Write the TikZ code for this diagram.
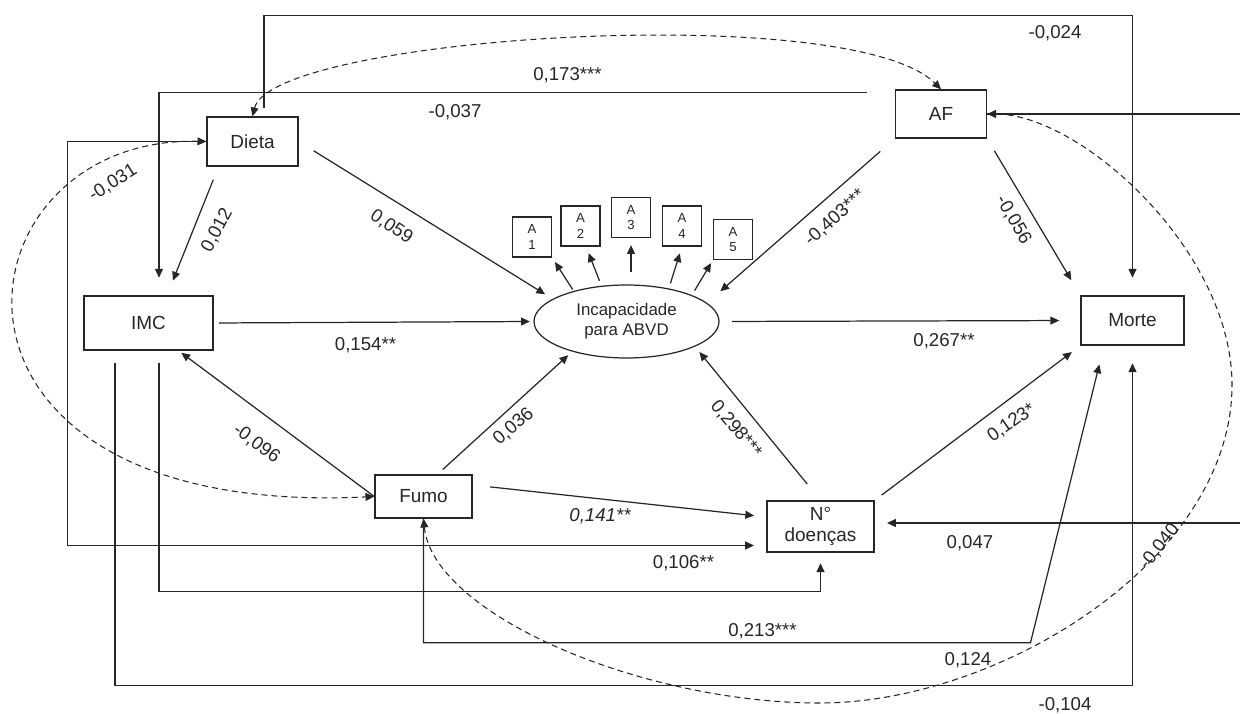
\documentclass[tikz,border=0pt]{standalone}
\usepackage{fontspec}
\setmainfont{Liberation Sans}
\usepackage{tikz}
\usetikzlibrary{shapes,arrows.meta}

\begin{document}
\begin{tikzpicture}[>={Triangle[length=5pt,width=4.5pt]}, line width=0.7pt, color=black!85,
  box/.style={draw, rectangle, line width=0.8pt, align=center, font=\fontsize{10.8}{12.3}\selectfont},
  item/.style={draw, rectangle, align=center, minimum width=0.78cm, minimum height=0.8cm, inner sep=0pt, font=\fontsize{7.5}{9}\selectfont},
  coef/.style={inner sep=0pt, font=\fontsize{10.6}{12}\selectfont},
  cov/.style={<->, dash pattern=on 3.4pt off 2.3pt, line width=0.6pt}]
  \useasboundingbox (0,0) rectangle (24.8,14.26);

  % Observed variables
  \node[box, minimum width=1.82cm, minimum height=0.98cm] (dieta) at (5.05,11.43) {Dieta};
  \node[box, minimum width=1.82cm, minimum height=0.96cm] (af) at (18.82,11.98) {AF};
  \node[box, minimum width=2.58cm, minimum height=1.08cm] (imc) at (2.97,7.80) {IMC};
  \node[box, minimum width=2.06cm, minimum height=0.98cm] (morte) at (22.65,7.85) {Morte};
  \node[box, minimum width=1.94cm, minimum height=0.86cm] (fumo) at (8.47,4.33) {Fumo};
  \node[box, minimum width=2.14cm, minimum height=1.02cm] (doencas) at (16.41,3.73) {N°\\doenças};

  % Latent variable and its items
  \node[draw, ellipse, minimum width=3.7cm, minimum height=1.46cm, inner sep=0pt, align=center, font=\fontsize{9.6}{11.5}\selectfont] (abvd) at (12.53,7.83) {Incapacidade\\para ABVD};
  \node[item] (a1) at (10.64,9.52) {A\\1};
  \node[item] (a2) at (11.61,9.74) {A\\2};
  \node[item] (a3) at (12.62,9.91) {A\\3};
  \node[item] (a4) at (13.64,9.74) {A\\4};
  \node[item] (a5) at (14.66,9.47) {A\\5};

  \draw[->, shorten <=1pt, shorten >=3pt] (abvd.150) -- (a1.south east);
  \draw[->, shorten <=3pt, shorten >=4pt] (abvd.125) -- (a2.-75);
  \draw[->, shorten <=7pt, shorten >=4pt] (abvd.north -| a3.south) -- (a3.south);
  \draw[->, shorten <=3pt, shorten >=4pt] (abvd.38) -- (a4.south);
  \draw[->, shorten <=3pt, shorten >=2pt] (abvd.22) -- (a5.south west);

  % Direct paths
  \draw[->, shorten <=10pt, shorten >=5pt] (dieta.east) -- (abvd.163);
  \draw[->, shorten <=8pt, shorten >=9pt] ([xshift=-0.68cm]dieta.south) -- ([xshift=0.37cm]imc.north);
  \draw[->, shorten <=3pt, shorten >=2pt] (imc.east) -- (abvd.west);
  \draw[->, shorten <=11pt, shorten >=10pt] (af.south west) -- (abvd.13);
  \draw[->, shorten <=8pt, shorten >=10pt] (af.south east) -- (morte.north west);
  \draw[->, shorten <=7pt, shorten >=12pt] (abvd.east) -- (morte.west);
  \draw[<-, shorten <=2pt] ([xshift=0.6cm]imc.south) -- (fumo.west);
  \draw[->, shorten <=4pt, shorten >=3pt] ([xshift=0.28cm]fumo.north) -- (abvd.209);
  \draw[->, shorten <=10pt, shorten >=7pt] ([yshift=0.23cm]fumo.east) -- ([yshift=0.19cm]doencas.west);
  \draw[->, shorten <=12pt] (doencas.north) -- ([xshift=0.4cm]abvd.-30);
  \draw[->, shorten <=5pt, shorten >=6pt] (doencas.north east) -- (morte.south west);

  % Long paths around the model
  \draw[->, shorten <=5pt, shorten >=10pt] ([xshift=0.23cm]dieta.north) -- ++(0,2.02) -| (morte.north);
  \draw[->, shorten <=16pt, shorten >=10pt] ([yshift=-0.06cm]af.north west) -| ([xshift=0.21cm]imc.north);
  \draw[->, shorten >=7pt] (dieta.west) -- ++(-2.78,0) |- ([yshift=-0.38cm]doencas.west);
  \draw[->, shorten <=7pt, shorten >=6pt] ([xshift=0.21cm]imc.south) -- ++(0,-4.82) -| (doencas.south);
  \draw[->, shorten <=7pt, shorten >=10pt] ([xshift=-0.67cm]imc.south) -- ++(0,-6.7) -| (morte.south);
  \draw[->, shorten >=11pt] (fumo.south) -- ++(0,-2.48) -- ++(12.14,0) -- ([xshift=-0.57cm]morte.south);
  \draw (af.east) -- ++(5.06,0);
  \draw[<-, shorten <=7pt] ([yshift=0.07cm]doencas.east) -- ++(7.32,0);

  % Correlations
  \coordinate (arcbot) at (16.4,0.2);
  \coordinate (arcright) at (24.64,6.56);
  \draw[cov] (dieta.north) .. controls +(0.4,1.6) and +(-1.8,1.8) .. (af.north);
  \draw[cov] (dieta.west) .. controls +(-5.14,0.12) and +(-9.5,-0.46) .. (fumo.west);
  \draw[cov] (fumo.south) .. controls +(0.19,-1.9) and +(-3.6,0) .. (arcbot)
    .. controls +(3.6,0) and +(0,-3.5) .. (arcright)
    .. controls +(0,2.7) and +(1.86,0) .. (af.east);

  % Coefficients
  \node[coef] (w024) at (21.10,13.60) {-0,024};
  \node[coef] (w173) at (11.35,12.76) {0,173***};
  \node[coef] (w037) at (9.10,12.02) {-0,037};
  \node[coef, rotate=32] (w031) at (2.26,10.60) {-0,031};
  \node[coef, rotate=62] (w012) at (4.34,9.66) {0,012};
  \node[coef, rotate=-33] (w059) at (7.83,9.72) {0,059};
  \node[coef, rotate=42] (w403) at (16.70,9.90) {-0,403***};
  \node[coef, rotate=-60] (w056) at (20.27,9.86) {-0,056};
  \node[coef] (w154) at (7.31,7.36) {0,154**};
  \node[coef] (w267) at (18.88,7.43) {0,267**};
  \node[coef, rotate=-36] (w096) at (5.13,5.39) {-0,096};
  \node[coef, rotate=41] (w036) at (10.27,5.73) {0,036};
  \node[coef, rotate=-50] (w298) at (14.72,5.68) {0,298***};
  \node[coef, rotate=35] (w123) at (20.23,5.80) {0,123*};
  \node[coef, font=\fontsize{10.6}{12}\selectfont\itshape] (w141) at (12.0,3.93) {0,141**};
  \node[coef] (w106) at (13.67,2.99) {0,106**};
  \node[coef] (w047) at (19.40,3.39) {0,047};
  \node[coef] (w213) at (15.25,1.63) {0,213***};
  \node[coef] (w124) at (19.36,1.06) {0,124};
  \node[coef, rotate=52] (w040) at (23.19,3.33) {-0,040};
  \node[coef] (w104) at (21.30,0.16) {-0,104};
\end{tikzpicture}
\end{document}
